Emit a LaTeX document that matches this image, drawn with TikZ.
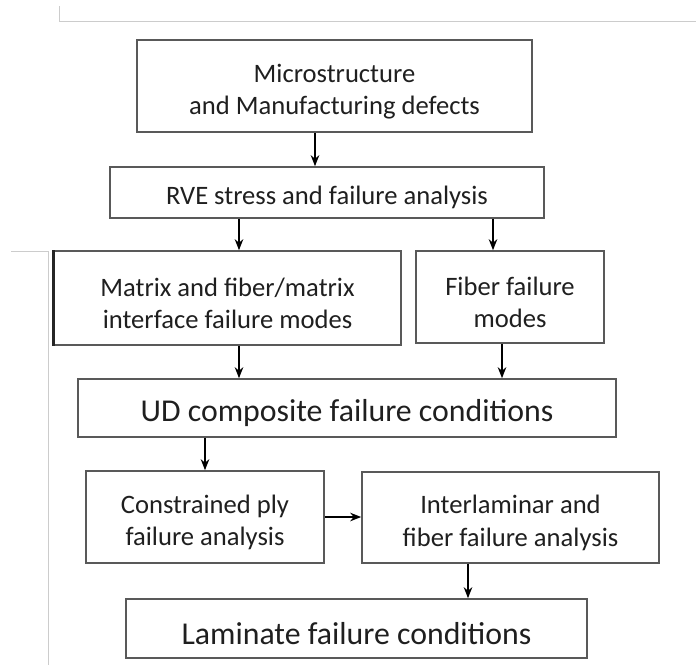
\documentclass[tikz,border=0pt]{standalone}
\usepackage{fontspec}
\setmainfont{Carlito}
\usetikzlibrary{arrows.meta}

\tikzset{
  box/.style={draw=black!65, line width=1.6pt, align=center, text=black!88,
    inner sep=0pt, font=\fontsize{26.6}{32.5}\selectfont,
    execute at begin node={\rule{0pt}{29pt}}},
  pairbox/.style={box, execute at begin node={\rule{0pt}{62pt}}},
  bigbox/.style={box, font=\fontsize{31.8}{36}\selectfont,
    execute at begin node={\rule{0pt}{33pt}}},
  arr/.style={line width=1.8pt, -{Stealth[length=11pt,width=8.5pt]}},
  rule/.style={black!20, line width=1pt}
}

\begin{document}
\begin{tikzpicture}[x=1pt,y=-1pt]
  \useasboundingbox (0,0) rectangle (696,665);
  \draw[rule] (59,6) -- (59,21) -- (696,21);
  \draw[rule] (11,251) -- (48,251) -- (48,665);

  \node[pairbox, minimum width=395pt, minimum height=92pt] (micro) at (334.5,86)
    {Microstructure\\and Manufacturing defects};
  \node[box, minimum width=434pt, minimum height=51pt] (rve) at (327,192.5)
    {RVE stress and failure analysis};
  \node[pairbox, minimum width=347pt, minimum height=94pt] (matrix) at (227.5,298)
    {Matrix and fiber/matrix\\interface failure modes};
  \node[pairbox, minimum width=188pt, minimum height=92pt] (fiber) at (510,297)
    {Fiber failure\\modes};
  \node[bigbox, minimum width=538pt, minimum height=58pt] (ud) at (347,408)
    {UD composite failure conditions};
  \node[pairbox, minimum width=238pt, minimum height=92pt] (ply) at (205,517)
    {Constrained ply\\failure analysis};
  \node[pairbox, minimum width=297pt, minimum height=91pt] (inter) at (510.5,517.5)
    {Interlaminar and\\fiber failure analysis};
  \node[bigbox, minimum width=461pt, minimum height=59pt] (lam) at (356.5,628.5)
    {Laminate failure conditions};

  \draw[line width=3pt, black!85] (matrix.north west) -- (matrix.south west);

  \draw[arr] ([xshift=-19.5pt]micro.south) -- ([xshift=-19.5pt]micro.south |- rve.north);
  \draw[arr] ([xshift=-88pt]rve.south) -- ([xshift=-88pt]rve.south |- matrix.north);
  \draw[arr] ([xshift=166pt]rve.south) -- ([xshift=166pt]rve.south |- fiber.north);
  \draw[arr] ([xshift=11.5pt]matrix.south) -- ([xshift=11.5pt]matrix.south |- ud.north);
  \draw[arr] ([xshift=-8pt]fiber.south) -- ([xshift=-8pt]fiber.south |- ud.north);
  \draw[arr] (ud.south -| ply.north) -- (ply.north);
  \draw[arr] (ply.east) -- (ply.east -| inter.west);
  \draw[arr] ([xshift=-42.5pt]inter.south) -- ([xshift=-42.5pt]inter.south |- lam.north);
\end{tikzpicture}
\end{document}
